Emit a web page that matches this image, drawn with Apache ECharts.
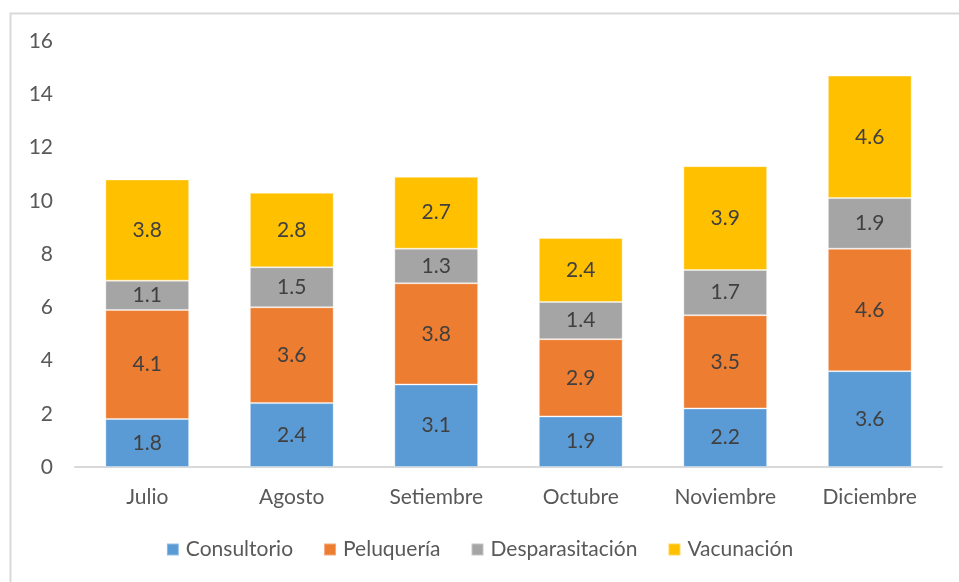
<!DOCTYPE html>
<html>
<head>
<meta charset="utf-8">
<script src="https://cdn.jsdelivr.net/npm/echarts@6/dist/echarts.min.js"></script>
<style>
  html, body { margin: 0; padding: 0; background: #fff; }
  #main { width: 959px; height: 582px; }
</style>
</head>
<body>
<div id="main"></div>
<script>
var months = ['Julio', 'Agosto', 'Setiembre', 'Octubre', 'Noviembre', 'Diciembre']
var consultorio = [1.8, 2.4, 3.1, 1.9, 2.2, 3.6]
var peluqueria = [4.1, 3.6, 3.8, 2.9, 3.5, 4.6]
var desparasitacion = [1.1, 1.5, 1.3, 1.4, 1.7, 1.9]
var vacunacion = [3.8, 2.8, 2.7, 2.4, 3.9, 4.6]

var fontFam = 'Lato, "Open Sans", sans-serif'

function serie(name, data, color) {
    return {
        name: name,
        type: 'bar',
        stack: 'total',
        barWidth: '58%',
        data: data,
        itemStyle: { color: color, borderColor: 'rgba(255,255,255,0.35)', borderWidth: 1 },
        label: {
            show: true,
            position: 'inside',
            color: '#404040',
            fontSize: 21,
            fontFamily: fontFam,
            formatter: function (p) { return p.value.toFixed(1) }
        }
    }
}

var myChart = echarts.init(document.getElementById('main'))
myChart.setOption({
    animation: false,
    color: ['#5B9BD5', '#ED7D31', '#A5A5A5', '#FFC000'],
    graphic: [{
        type: 'rect',
        shape: { x: 10.5, y: 13.5, width: 1000, height: 700 },
        style: { fill: 'none', stroke: '#d9d9d9', lineWidth: 2 },
        silent: true
    }],
    grid: { left: 75, right: 17, top: 41, bottom: 115 },
    legend: {
        bottom: 17,
        left: 'center',
        itemWidth: 12,
        itemHeight: 12,
        itemGap: 30,
        icon: 'rect',
        textStyle: { color: '#595959', fontSize: 21, fontFamily: fontFam, padding: [0, 0, 0, 2] },
        data: ['Consultorio', 'Peluquería', 'Desparasitación', 'Vacunación']
    },
    xAxis: {
        type: 'category',
        data: months,
        axisLine: { lineStyle: { color: '#d9d9d9', width: 2 } },
        axisTick: { show: false },
        axisLabel: { color: '#595959', fontSize: 21, fontFamily: fontFam, margin: 20 }
    },
    yAxis: {
        type: 'value',
        min: 0,
        max: 16,
        interval: 2,
        splitLine: { show: false },
        axisLine: { show: false },
        axisTick: { show: false },
        axisLabel: { color: '#595959', fontSize: 21, fontFamily: fontFam, margin: 22 }
    },
    series: [
        serie('Consultorio', consultorio, '#5B9BD5'),
        serie('Peluquería', peluqueria, '#ED7D31'),
        serie('Desparasitación', desparasitacion, '#A5A5A5'),
        serie('Vacunación', vacunacion, '#FFC000')
    ]
})
</script>
</body>
</html>
